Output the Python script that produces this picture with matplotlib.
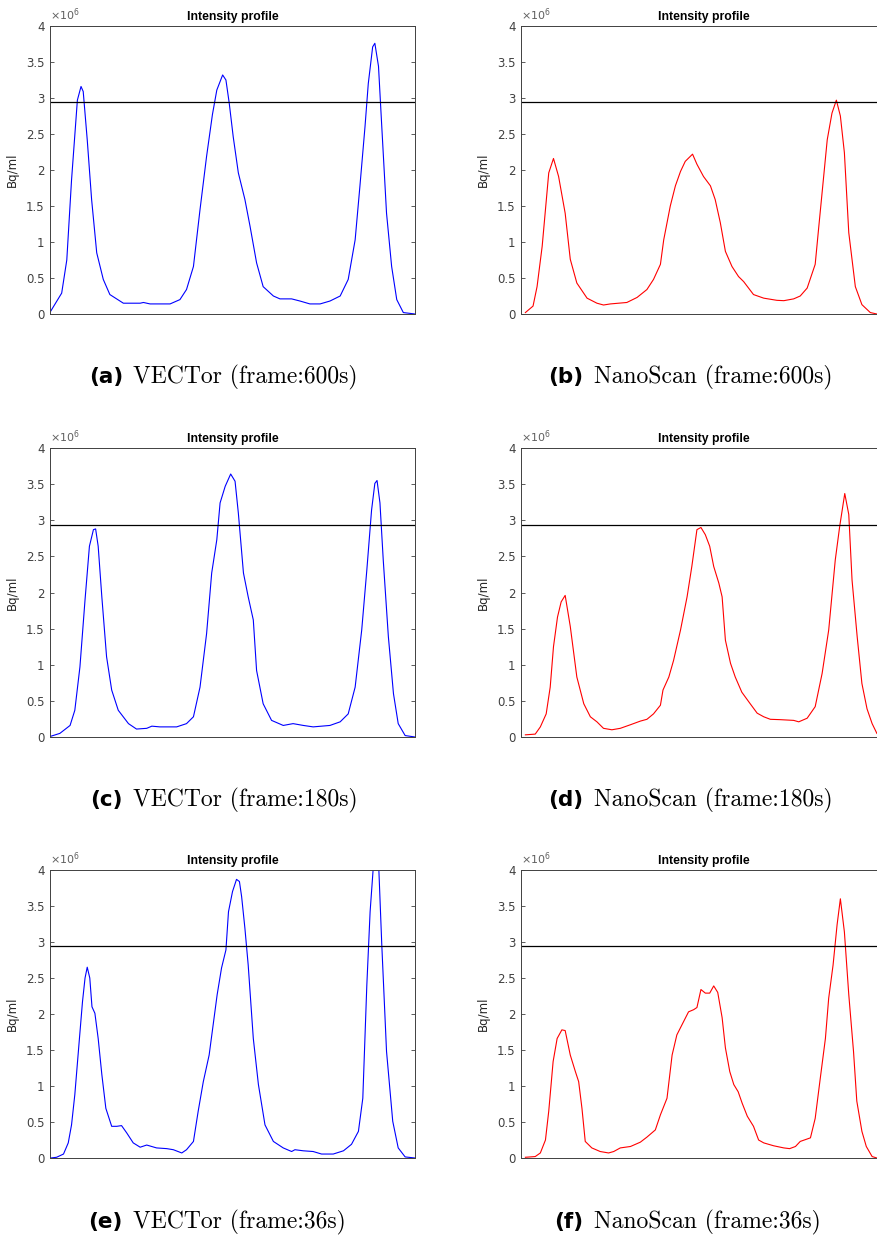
import matplotlib.pyplot as plt
from matplotlib.ticker import FuncFormatter

# profile position (% of line length) and activity (x1e6 Bq/ml)
xa = [0.2, 3.2, 4.6, 5.9, 7.5, 8.5, 9.1, 10.2, 11.4, 12.8, 14.6, 16.4, 20.1, 24.7, 25.6, 27.4,
      32.9, 35.6, 37.4, 39.3, 41.1, 42.9, 44.5, 45.7, 47.3, 48.2, 49.1, 50.2, 51.6, 53.4, 54.8,
      56.6, 58.4, 61.2, 63.0, 66.2, 68.5, 71.2, 74.0, 76.7, 79.5, 81.7, 83.6, 84.9, 86.3, 87.2,
      88.4, 89.0, 90.0, 90.9, 92.2, 93.6, 95.0, 96.8, 100]
ya = [0.04, 0.29, 0.75, 1.86, 2.97, 3.16, 3.09, 2.42, 1.59, 0.85, 0.48, 0.27, 0.15, 0.15, 0.16, 0.14,
      0.14, 0.2, 0.34, 0.66, 1.45, 2.19, 2.77, 3.11, 3.32, 3.25, 2.93, 2.46, 1.96, 1.59, 1.22,
      0.71, 0.38, 0.25, 0.21, 0.21, 0.18, 0.14, 0.14, 0.18, 0.25, 0.48, 1.03, 1.77, 2.60, 3.2,
      3.71, 3.76, 3.44, 2.60, 1.40, 0.66, 0.2, 0.02, 0.0]

xb = [1.2, 3.3, 4.4, 5.8, 7.6, 8.9, 10.3, 12.1, 13.5, 15.3, 18.1, 20.8, 22.6, 24.5, 29.0, 31.8,
      34.5, 36.3, 38.2, 39.1, 40.9, 42.3, 43.7, 45.0, 47.0, 48.2, 50.0, 51.9, 53.2, 54.6, 56.0,
      57.8, 59.6, 61.0, 63.7, 66.5, 70.1, 72.0, 74.7, 76.5, 78.4, 80.6, 81.6, 83.9, 85.2, 86.4,
      87.5, 88.6, 89.8, 91.6, 93.4, 95.7, 97.5]
yb = [0.02, 0.11, 0.38, 0.94, 1.96, 2.16, 1.91, 1.40, 0.76, 0.43, 0.22, 0.15, 0.125, 0.14, 0.16, 0.23,
      0.34, 0.48, 0.69, 1.03, 1.50, 1.78, 1.98, 2.12, 2.22, 2.08, 1.91, 1.78, 1.59, 1.27, 0.87,
      0.66, 0.52, 0.45, 0.27, 0.22, 0.19, 0.185, 0.21, 0.25, 0.36, 0.69, 1.22, 2.42, 2.79, 2.97,
      2.75, 2.24, 1.13, 0.38, 0.13, 0.02, 0.0]

xc = [0.2, 2.7, 5.5, 6.8, 8.2, 9.6, 10.8, 11.9, 12.5, 13.2, 14.2, 15.5, 16.9, 18.7, 21.5, 23.7,
      26.5, 27.9, 30.1, 34.7, 37.4, 39.3, 41.1, 42.9, 44.3, 45.7, 46.6, 48.0, 49.5, 50.7, 51.6,
      53.0, 54.3, 55.7, 56.6, 58.4, 60.7, 63.9, 66.6, 69.4, 72.1, 76.7, 79.5, 81.7, 83.6, 85.4,
      86.8, 88.1, 89.0, 89.6, 90.4, 91.3, 92.7, 94.1, 95.4, 97.3, 100]
yc = [0.01, 0.05, 0.16, 0.37, 0.97, 1.90, 2.64, 2.87, 2.88, 2.64, 1.94, 1.11, 0.65, 0.37, 0.185, 0.11,
      0.12, 0.15, 0.14, 0.14, 0.185, 0.28, 0.69, 1.43, 2.27, 2.73, 3.24, 3.47, 3.64, 3.54, 3.10,
      2.27, 1.94, 1.62, 0.92, 0.46, 0.23, 0.16, 0.185, 0.16, 0.14, 0.16, 0.21, 0.32, 0.69, 1.48,
      2.31, 3.14, 3.51, 3.55, 3.24, 2.45, 1.39, 0.60, 0.185, 0.02, 0.0]

xd = [1.2, 3.9, 5.3, 6.9, 8.0, 8.9, 10.0, 11.0, 12.1, 13.5, 15.3, 17.2, 19.0, 20.8, 22.6, 24.9,
      27.2, 30.0, 32.7, 34.5, 36.3, 38.2, 38.9, 40.5, 41.8, 43.7, 45.5, 46.8, 48.2, 49.3, 50.5,
      51.7, 52.8, 54.2, 55.1, 56.0, 57.4, 58.7, 60.5, 62.8, 64.7, 66.5, 68.3, 71.0, 74.7, 76.1,
      78.4, 80.6, 82.5, 84.3, 86.1, 87.3, 88.7, 89.8, 90.7, 92.1, 93.4, 94.8, 96.2, 97.5]
yd = [0.03, 0.04, 0.14, 0.32, 0.69, 1.25, 1.66, 1.87, 1.96, 1.53, 0.83, 0.46, 0.28, 0.21, 0.12, 0.10,
      0.12, 0.17, 0.22, 0.245, 0.32, 0.44, 0.65, 0.83, 1.06, 1.48, 1.94, 2.36, 2.87, 2.90, 2.80,
      2.64, 2.36, 2.13, 1.94, 1.34, 1.02, 0.83, 0.62, 0.46, 0.33, 0.28, 0.245, 0.24, 0.23, 0.21,
      0.26, 0.42, 0.88, 1.48, 2.45, 2.91, 3.37, 3.08, 2.17, 1.39, 0.74, 0.39, 0.185, 0.05]

xe = [0.2, 1.8, 3.7, 5.0, 5.9, 6.8, 8.0, 8.9, 9.6, 10.2, 10.9, 11.5, 12.3, 13.2, 14.2, 15.3,
      16.9, 18.3, 19.6, 21.0, 22.8, 24.7, 26.5, 29.2, 32.0, 33.8, 36.1, 37.4, 39.3, 40.6, 42.0,
      43.6, 44.7, 45.8, 47.0, 48.2, 48.9, 50.0, 51.1, 51.9, 52.5, 53.4, 54.3, 55.7, 57.1, 58.9,
      61.2, 63.9, 66.2, 67.1, 69.4, 72.1, 74.4, 77.6, 80.4, 82.6, 84.5, 85.7, 86.8, 87.7, 88.8,
      89.4, 90.1, 90.9, 92.2, 93.9, 95.4, 97.3, 100]
ye = [0.0, 0.01, 0.055, 0.21, 0.46, 0.88, 1.62, 2.17, 2.50, 2.65, 2.50, 2.10, 2.01, 1.66, 1.16, 0.69,
      0.44, 0.44, 0.45, 0.35, 0.21, 0.15, 0.18, 0.14, 0.13, 0.115, 0.07, 0.115, 0.23, 0.65, 1.06,
      1.43, 1.85, 2.27, 2.64, 2.89, 3.42, 3.70, 3.87, 3.84, 3.63, 3.19, 2.68, 1.66, 1.02, 0.46,
      0.23, 0.14, 0.09, 0.115, 0.10, 0.09, 0.055, 0.055, 0.10, 0.19, 0.37, 0.83, 2.40, 3.42, 4.2,
      4.25, 4.0, 2.96, 1.48, 0.51, 0.14, 0.015, 0.0]

xf = [1.2, 3.9, 5.3, 6.7, 7.6, 8.8, 9.9, 11.2, 12.1, 13.5, 14.9, 15.8, 16.7, 17.6, 19.4, 21.7,
      24.0, 25.4, 27.2, 30.0, 32.7, 34.5, 36.8, 38.2, 40.0, 41.4, 42.7, 44.1, 45.9, 47.3, 48.2,
      49.3, 50.5, 51.7, 52.8, 53.9, 55.1, 56.0, 57.2, 58.3, 59.5, 60.6, 62.0, 63.7, 65.1, 66.5,
      69.2, 72.0, 73.6, 75.2, 76.5, 79.3, 80.6, 82.0, 83.4, 84.3, 85.5, 86.6, 87.5, 88.6, 89.8,
      91.1, 92.0, 93.4, 94.6, 96.2, 97.5]
yf = [0.01, 0.02, 0.07, 0.25, 0.65, 1.34, 1.66, 1.78, 1.77, 1.43, 1.20, 1.06, 0.69, 0.23, 0.14, 0.09,
      0.07, 0.09, 0.14, 0.16, 0.22, 0.29, 0.39, 0.60, 0.83, 1.43, 1.71, 1.85, 2.03, 2.06, 2.09,
      2.34, 2.29, 2.29, 2.39, 2.30, 1.95, 1.53, 1.20, 1.02, 0.92, 0.76, 0.58, 0.44, 0.25, 0.21,
      0.17, 0.14, 0.13, 0.16, 0.23, 0.28, 0.55, 1.11, 1.66, 2.22, 2.68, 3.24, 3.60, 3.14, 2.27,
      1.48, 0.79, 0.37, 0.16, 0.02, 0.0]

threshold = 2.94  # x1e6 Bq/ml
letters = ['(a)', '(b)', '(c)', '(d)', '(e)', '(f)']
names = ['VECTor (frame:600s)', 'NanoScan (frame:600s)',
         'VECTor (frame:180s)', 'NanoScan (frame:180s)',
         'VECTor (frame:36s)', 'NanoScan (frame:36s)']
profiles = [(xa, ya, 'blue'), (xb, yb, 'red'),
            (xc, yc, 'blue'), (xd, yd, 'red'),
            (xe, ye, 'blue'), (xf, yf, 'red')]

W, H = 877, 1238
fig = plt.figure(figsize=(W / 100, H / 100), dpi=100)

rows = [(26, 314), (448, 737), (870, 1158)]
cols = [(50, 415), (521, 886)]
cap_y = [377, 800, 1222]
cap_split = [(123, 133), (583, 594)]
grey = '#404040'

for i, (x, y, col) in enumerate(profiles):
    r, c = divmod(i, 2)
    top, bot = rows[r]
    left, right = cols[c]
    ax = fig.add_axes([left / W, 1 - bot / H, (right - left) / W, (bot - top) / H])
    ax.plot(x, [v * 1e6 for v in y], color=col, lw=0.8)
    ax.axhline(threshold * 1e6, color='black', lw=0.9)
    ax.set_xlim(0, 100)
    ax.set_ylim(0, 4e6)
    ax.set_yticks([k * 0.5e6 for k in range(9)])
    ax.yaxis.set_major_formatter(FuncFormatter(lambda v, p: '%g' % (v / 1e6)))
    ax.set_xticks([])
    ax.tick_params(axis='y', direction='in', length=3, width=0.6, colors=grey,
                   labelsize=8.5, right=True, pad=4)
    for s in ax.spines.values():
        s.set_color(grey)
        s.set_linewidth(0.7)
    ax.set_title('Intensity profile', fontsize=8.8, fontweight='bold', pad=4,
                 fontfamily='Liberation Sans')
    ax.set_ylabel('Bq/ml', fontsize=8.5, color='#262626', labelpad=5)
    ax.text(0.0, 1.012, r'$\times10^{6}$', transform=ax.transAxes, fontsize=8,
            color='#606060', ha='left', va='bottom')

    xl, xr = cap_split[c]
    fig.text(xl / W, 1 - cap_y[r] / H, letters[i], ha='right', va='center',
             fontsize=15.5, fontweight='bold', fontfamily='DejaVu Sans')
    fig.text(xr / W, 1 - cap_y[r] / H, names[i], ha='left', va='center',
             fontsize=17, fontfamily='cmr10')

fig.savefig('out.png', dpi=100)
